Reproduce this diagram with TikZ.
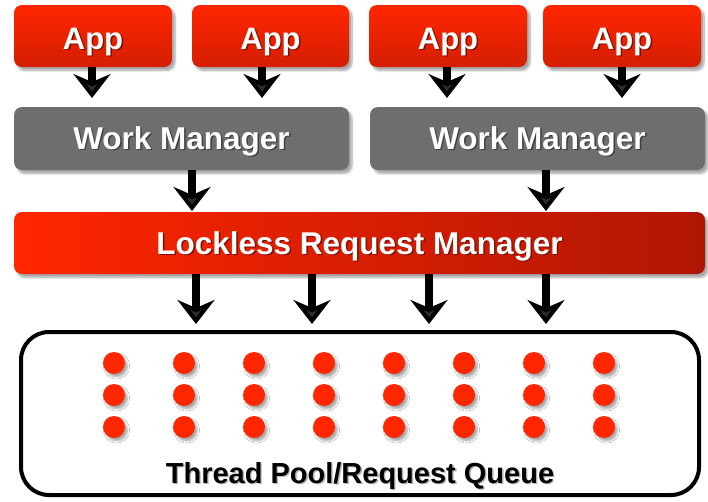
\documentclass[tikz,border=0pt]{standalone}
\usepackage{fontspec}
\setmainfont{Liberation Sans}
\usetikzlibrary{arrows.meta,shadows.blur}
\definecolor{redA}{RGB}{255,38,0}
\definecolor{redB}{RGB}{212,30,2}
\definecolor{redC}{RGB}{176,22,4}
\definecolor{wmgray}{RGB}{110,110,110}
\definecolor{dotred}{RGB}{255,38,0}
\newcommand\shtxt[2]{\leavevmode\rlap{\hspace{1.4pt}\raisebox{-1.4pt}{\textcolor{#1}{#2}}}#2}
\tikzset{
  boxshadow/.style={blur shadow={shadow xshift=3pt,shadow yshift=-3.5pt,shadow blur steps=6,shadow opacity=35}},
  appbox/.style={boxshadow,rounded corners=8pt,top color=redA,bottom color=redB,draw=none,
    minimum width=158pt,minimum height=62pt,inner sep=0pt,outer sep=0pt,text=white,
    font=\fontsize{31}{36}\selectfont\bfseries,text height=22pt,text depth=0pt},
  wmbox/.style={boxshadow,rounded corners=8pt,fill=wmgray,draw=none,
    minimum width=335pt,minimum height=63pt,inner sep=0pt,outer sep=0pt,text=white,
    font=\fontsize{31.5}{36}\selectfont\bfseries,text height=22pt,text depth=0pt},
  lrmbox/.style={boxshadow,rounded corners=8pt,left color=redA,right color=redC,draw=none,
    minimum width=691pt,minimum height=62pt,inner sep=0pt,outer sep=0pt,text=white,
    font=\fontsize{31.5}{36}\selectfont\bfseries,text height=22pt,text depth=0pt},
  poolbox/.style={draw=black,line width=4pt,rounded corners=28pt,fill=white,
    minimum width=678pt,minimum height=163pt,inner sep=0pt,outer sep=0pt},
  poollabel/.style={font=\fontsize{29}{34}\selectfont\bfseries,text=black,inner sep=0pt,anchor=base},
  arr/.style={line width=8pt,-{Stealth[length=24pt,width=37pt,inset=8pt]}},
  thread/.style={fill=dotred,blur shadow={shadow xshift=2.5pt,shadow yshift=-3pt,shadow blur steps=5,shadow opacity=35}}
}
\begin{document}
\begin{tikzpicture}[x=1pt,y=-1pt]
\useasboundingbox (0,0) rectangle (708,501);
% apps
\node[appbox] (app1) at (93,36) {\raisebox{-2.5pt}{\shtxt{redC!70!black}{App}}};
\node[appbox,minimum width=157pt] (app2) at (270.5,36) {\raisebox{-2.5pt}{\shtxt{redC!70!black}{App}}};
\node[appbox] (app3) at (448,36) {\raisebox{-2.5pt}{\shtxt{redC!70!black}{App}}};
\node[appbox] (app4) at (622,36) {\raisebox{-2.5pt}{\shtxt{redC!70!black}{App}}};
% work managers
\node[wmbox] (wm1) at (181.5,138.5) {\shtxt{black!75}{Work Manager}};
\node[wmbox] (wm2) at (537.5,138.5) {\shtxt{black!75}{Work Manager}};
% lockless request manager
\node[lrmbox] (lrm) at (359.5,243) {\shtxt{redC!70!black}{Lockless Request Manager}};
% pool
\node[poolbox] (pool) at (360,413.5) {};
\node[poollabel] (plabel) at ([yshift=12pt]pool.south) {\shtxt{black!30}{Thread Pool/Request Queue}};
% threads
\foreach \i in {0,...,7}{
  \foreach \j in {0,1,2}{
    \fill[thread] (114+70*\i,363+32*\j) circle (11);
  }
}
% arrows app -> wm
\draw[arr,shorten >=9pt] ([xshift=-1pt]app1.south) -- ([xshift=-1pt]app1.south |- wm1.north);
\draw[arr,shorten >=9pt] ([xshift=-8.5pt]app2.south) -- ([xshift=-8.5pt]app2.south |- wm1.north);
\draw[arr,shorten >=9pt] ([xshift=-1pt]app3.south) -- ([xshift=-1pt]app3.south |- wm2.north);
\draw[arr,shorten >=9pt] (app4.south) -- (app4.south |- wm2.north);
% wm -> lrm
\draw[arr,shorten >=1pt] ([xshift=10.5pt]wm1.south) -- ([xshift=10.5pt]wm1.south |- lrm.north);
\draw[arr,shorten >=1pt] ([xshift=8.5pt]wm2.south) -- ([xshift=8.5pt]wm2.south |- lrm.north);
% lrm -> pool
\draw[arr,shorten >=8pt] ([xshift=-163.5pt]lrm.south) -- ([xshift=-163.5pt]lrm.south |- pool.north);
\draw[arr,shorten >=8pt] ([xshift=-47.5pt]lrm.south) -- ([xshift=-47.5pt]lrm.south |- pool.north);
\draw[arr,shorten >=8pt] ([xshift=69.5pt]lrm.south) -- ([xshift=69.5pt]lrm.south |- pool.north);
\draw[arr,shorten >=8pt] ([xshift=186.5pt]lrm.south) -- ([xshift=186.5pt]lrm.south |- pool.north);
\end{tikzpicture}
\end{document}
